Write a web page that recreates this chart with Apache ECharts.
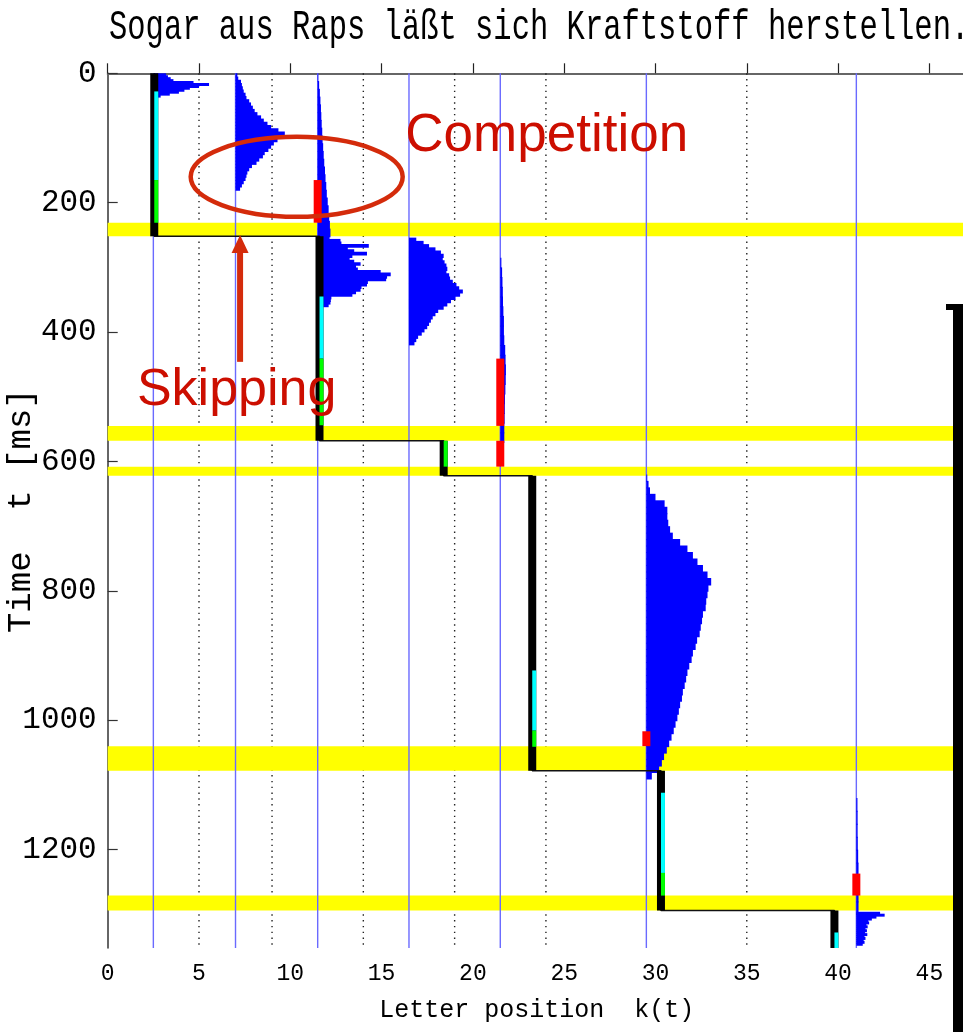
<!DOCTYPE html>
<html>
<head>
<meta charset="utf-8">
<script src="https://cdn.jsdelivr.net/npm/echarts@6/dist/echarts.min.js"></script>
<style>
  html, body { margin: 0; padding: 0; background: #fff; }
  #chart { width: 963px; height: 1032px; }
</style>
</head>
<body>
<div id="chart"></div>
<script>
// ---- sentence and axes ----
const sentence = 'Sogar aus Raps läßt sich Kraftstoff herstellen.';
const X_MAX = 47;
const Y_MAX = 1352;

// word centres (blue guides) and spaces between words (dotted guides), letter units
const wordCenters = [2.5, 7, 11.5, 16.5, 21.5, 29.5, 41];
const wordGaps = [5, 9, 14, 19, 24, 35];

// fixations: letter position k and time span [ms]
const fixPos = [2.55, 11.6, 18.4, 23.25, 30.3, 39.8];
const fixStart = [0, 252, 568, 622, 1078, 1294];
const fixEnd = [252, 568, 622, 1078, 1294, 1352];

// saccade intervals [ms]
const saccStart = [231, 545, 608, 1040, 1271];
const saccEnd = [252, 568, 622, 1078, 1294];

// processing phases on each fixation: [fixation index, start, end]
const labileStage = [[0, 28, 165], [1, 345, 441], [3, 923, 1016], [4, 1112, 1236], [5, 1328, 1352]];
const programStage = [[0, 165, 231], [1, 441, 544], [2, 568, 608], [3, 1016, 1041], [4, 1236, 1271]];

// selected saccade targets
const targetPos = [11.5, 21.5, 21.5, 29.5, 41];
const targetStart = [165, 441, 568, 1017, 1237];
const targetEnd = [231, 545, 608, 1040, 1271];

// target-selection densities per word (width in letters), sampled in time
const densSogar = [0.7, 0.8, 0.95, 1.1, 2.2, 3.05, 2.5, 2.0, 1.7, 1.4, 0.9, 0.4];
const densAus = [0.1, 0.15, 0.3, 0.35, 0.4, 0.45, 0.55, 0.6, 0.75, 0.85, 0.95, 1.05, 1.2, 1.4, 1.55, 1.75, 1.95, 2.35,
  2.7, 2.55, 2.3, 2.1, 1.95, 1.8, 1.6, 1.5, 1.3, 1.15, 0.9, 0.75, 0.65, 0.6, 0.55, 0.45, 0.35, 0.25];
const densRapsEarly = [0.03, 0.08, 0.12, 0.15, 0.18, 0.2, 0.22, 0.25, 0.27, 0.3, 0.33, 0.36, 0.4, 0.43, 0.47, 0.5,
  0.55, 0.6, 0.63, 0.67, 0.7];
const densRapsLate = [0.65, 1.25, 1.3, 2.8, 1.65, 2.0, 2.7, 1.9, 1.75, 2.0, 2.35, 2.1, 2.2, 3.45, 4.0, 3.8, 3.75,
  2.75, 2.7, 2.4, 2.35, 2.1, 1.9, 0.75, 0.72, 0.7, 0.6];
const densLaesst = [0.4, 0.8, 1.1, 1.45, 1.75, 1.9, 1.85, 1.95, 2.05, 2.1, 2.05, 2.2, 2.25, 2.4, 2.6, 2.75, 2.95,
  2.8, 2.55, 2.3, 2.1, 1.9, 1.6, 1.45, 1.3, 1.2, 1.1, 1.0, 0.85, 0.7, 0.5, 0.4, 0.3];
const densSich = [0.06, 0.1, 0.12, 0.14, 0.15, 0.17, 0.2, 0.2, 0.22, 0.27, 0.29, 0.31, 0.3, 0.28, 0.26, 0.25,
  0.24, 0.22, 0.22];
const densKraftstoff = [0.05, 0.12, 0.2, 0.5, 1.0, 1.15, 1.15, 1.2, 1.3, 1.45, 1.85, 2.25, 2.55, 2.8, 3.1, 3.35,
  3.55, 3.4, 3.35, 3.28, 3.25, 3.1, 3.05, 2.98, 2.92, 2.78, 2.7, 2.55, 2.48, 2.35, 2.25, 2.18, 2.1, 2.0, 1.95,
  1.85, 1.78, 1.7, 1.6, 1.5, 1.38, 1.25, 1.12, 0.97, 0.85, 0.7, 0.3];
const densHerstellenEarly = [0.06, 0.07, 0.07, 0.08, 0.1, 0.12, 0.12, 0.12, 0.12];
const densHerstellenLate = [1.3, 1.55, 1.1, 0.85, 0.65, 0.7, 0.55, 0.62, 0.5, 0.58, 0.48, 0.6, 0.45, 0.5, 0.4,
  0.45, 0.35];

// [word centre, first sample time, sample step, samples]
const densityTracks = [
  [2.5, 0, 3, densSogar],
  [7, 0, 5, densAus],
  [11.5, 0, 12, densRapsEarly],
  [11.5, 252, 4, densRapsLate],
  [16.5, 254, 5, densLaesst],
  [21.5, 285, 15, densSich],
  [29.5, 620, 10, densKraftstoff],
  [41, 1120, 20, densHerstellenEarly],
  [41, 1296, 3, densHerstellenLate]
];

// ---- derived data for the series ----
const densityBins = [];
densityTracks.forEach(([base, t0, dt, vals]) => {
  vals.forEach((w, i) => densityBins.push([base, t0 + i * dt, t0 + (i + 1) * dt, w]));
});
const fixBars = fixPos.map((k, i) => [k, fixStart[i], fixEnd[i]]);
const stageBars = labileStage.map(([f, s, e]) => [fixPos[f], s, e, 0])
  .concat(programStage.map(([f, s, e]) => [fixPos[f], s, e, 1]));
const targetBars = targetPos.map((k, i) => [k, targetStart[i], targetEnd[i]]);
const saccBands = saccStart.map((s, i) => [0, s, saccEnd[i]]);
const scanPath = [];
fixPos.forEach((k, i) => { scanPath.push([k, fixStart[i]]); scanPath.push([k, fixEnd[i]]); });

const BAR_W = 8;
const MONO = '"Liberation Mono", "DejaVu Sans Mono", monospace';

function guideLine(color, width, dash) {
  return function (params, api) {
    const a = api.coord([api.value(0), 0]);
    const b = api.coord([api.value(0), Y_MAX]);
    return { type: 'line', shape: { x1: a[0], y1: a[1], x2: b[0], y2: b[1] },
      style: { stroke: color, lineWidth: width, lineDash: dash } };
  };
}
function centredBar(fill) {
  return function (params, api) {
    const a = api.coord([api.value(0), api.value(1)]);
    const b = api.coord([api.value(0), api.value(2)]);
    return { type: 'rect', shape: { x: a[0] - BAR_W / 2, y: a[1], width: BAR_W, height: b[1] - a[1] },
      style: { fill: fill } };
  };
}

const chart = echarts.init(document.getElementById('chart'), null, { renderer: 'canvas' });

const option = {
  animation: false,
  backgroundColor: '#fff',
  grid: { left: 107.7, top: 73.3, width: 858.2, height: 874.7, outerBoundsMode: 'none', containLabel: false },
  xAxis: {
    type: 'value', min: 0, max: X_MAX, interval: 5,
    name: 'Letter position  k(t)', nameLocation: 'middle', nameGap: 50, nameMoveOverlap: false,
    nameTextStyle: { fontFamily: MONO, fontSize: 25, color: '#000' },
    axisLine: { lineStyle: { color: '#666', width: 2 } },
    axisTick: { inside: true, length: 10, lineStyle: { color: '#222', width: 1.2 } },
    axisLabel: { fontFamily: MONO, fontSize: 23, color: '#000', margin: 14, showMaxLabel: false,
      formatter: v => String(v) },
    splitLine: { show: false }
  },
  yAxis: {
    type: 'value', inverse: true, min: 0, max: Y_MAX, interval: 200,
    name: 'Time  t [ms]', nameLocation: 'middle', nameGap: 70, nameMoveOverlap: false,
    nameTextStyle: { fontFamily: MONO, fontSize: 34, color: '#000' },
    axisLine: { lineStyle: { color: '#333', width: 1.5 } },
    axisTick: { inside: true, length: 10, lineStyle: { color: '#333', width: 1.2 } },
    axisLabel: { fontFamily: MONO, fontSize: 31, color: '#000', margin: 11, showMaxLabel: false,
      formatter: v => String(v) },
    splitLine: { show: false }
  },
  series: [
    { type: 'custom', name: 'spaces', z: 1, data: wordGaps.map(k => [k, 0]),
      renderItem: guideLine('#222', 1.4, [1.4, 4.4]) },
    { type: 'custom', name: 'saccades', z: 2, data: saccBands,
      renderItem: function (params, api) {
        const a = api.coord([0, api.value(1)]);
        const b = api.coord([X_MAX, api.value(2)]);
        return { type: 'rect', shape: { x: a[0], y: a[1], width: b[0] - a[0], height: b[1] - a[1] },
          style: { fill: '#ffff00' } };
      } },
    { type: 'custom', name: 'word centres', z: 3, data: wordCenters.map(k => [k, 0]),
      renderItem: guideLine('#6a6aff', 1.4, null) },
    { type: 'custom', name: 'target density', z: 4, data: densityBins,
      renderItem: function (params, api) {
        const a = api.coord([api.value(0), api.value(1)]);
        const b = api.coord([api.value(0) + api.value(3), api.value(2)]);
        return { type: 'rect', shape: { x: a[0], y: a[1], width: b[0] - a[0], height: b[1] - a[1] + 1 },
          style: { fill: '#0000ff' } };
      } },
    { type: 'line', name: 'scan path', z: 5, data: scanPath, showSymbol: false, symbol: 'none',
      lineStyle: { color: '#111', width: 1.5 } },
    { type: 'custom', name: 'fixations', z: 6, data: fixBars, renderItem: centredBar('#000') },
    { type: 'custom', name: 'stages', z: 7, data: stageBars,
      renderItem: function (params, api) {
        const a = api.coord([api.value(0), api.value(1)]);
        const b = api.coord([api.value(0), api.value(2)]);
        return { type: 'rect', shape: { x: a[0], y: a[1], width: BAR_W / 2, height: b[1] - a[1] },
          style: { fill: api.value(3) === 0 ? '#00ffff' : '#00ff00' } };
      } },
    { type: 'custom', name: 'targets', z: 8, data: targetBars, renderItem: centredBar('#ff0000') }
  ]
};
chart.setOption(option);

// ---- annotations, anchored in data units ----
const ringCentre = [10.35, 160];
const arrowTip = [7.25, 250];
const arrowTail = [7.25, 446];
const competitionAnchor = [16.3, 98];
const skippingAnchor = [1.6, 490];

const px = p => chart.convertToPixel({ gridIndex: 0 }, p);
const rc = px(ringCentre), at = px(arrowTip), aTail = px(arrowTail);
const cp = px(competitionAnchor), sp = px(skippingAnchor);
const ANNOT = '#d42b0b';

chart.setOption({
  graphic: [
    { type: 'text', left: 109, top: 6, scaleY: 1.4,
      style: { text: sentence, font: '30.5px ' + MONO, fill: '#000' } },
    { type: 'ellipse', z: 20, shape: { cx: rc[0], cy: rc[1], rx: 106, ry: 40 },
      style: { fill: 'none', stroke: ANNOT, lineWidth: 4.5 } },
    { type: 'line', z: 20, shape: { x1: aTail[0], y1: aTail[1], x2: at[0], y2: at[1] + 16 },
      style: { stroke: ANNOT, lineWidth: 6 } },
    { type: 'polygon', z: 20, shape: { points: [[at[0], at[1]], [at[0] - 8.5, at[1] + 18], [at[0] + 8.5, at[1] + 18]] },
      style: { fill: ANNOT } },
    { type: 'text', z: 20, x: cp[0], y: cp[1],
      style: { text: 'Competition', font: '53px "Liberation Sans", Arial, sans-serif', fill: '#cc0e00',
        textVerticalAlign: 'middle' } },
    { type: 'text', z: 20, x: sp[0], y: sp[1],
      style: { text: 'Skipping', font: '52px "Liberation Sans", Arial, sans-serif', fill: '#cc0e00',
        textVerticalAlign: 'middle' } },
    { type: 'rect', z: 30, shape: { x: 953, y: 304, width: 12, height: 740 }, style: { fill: '#000' } },
    { type: 'rect', z: 30, shape: { x: 946, y: 304, width: 19, height: 6 }, style: { fill: '#000' } }
  ]
});
</script>
</body>
</html>
